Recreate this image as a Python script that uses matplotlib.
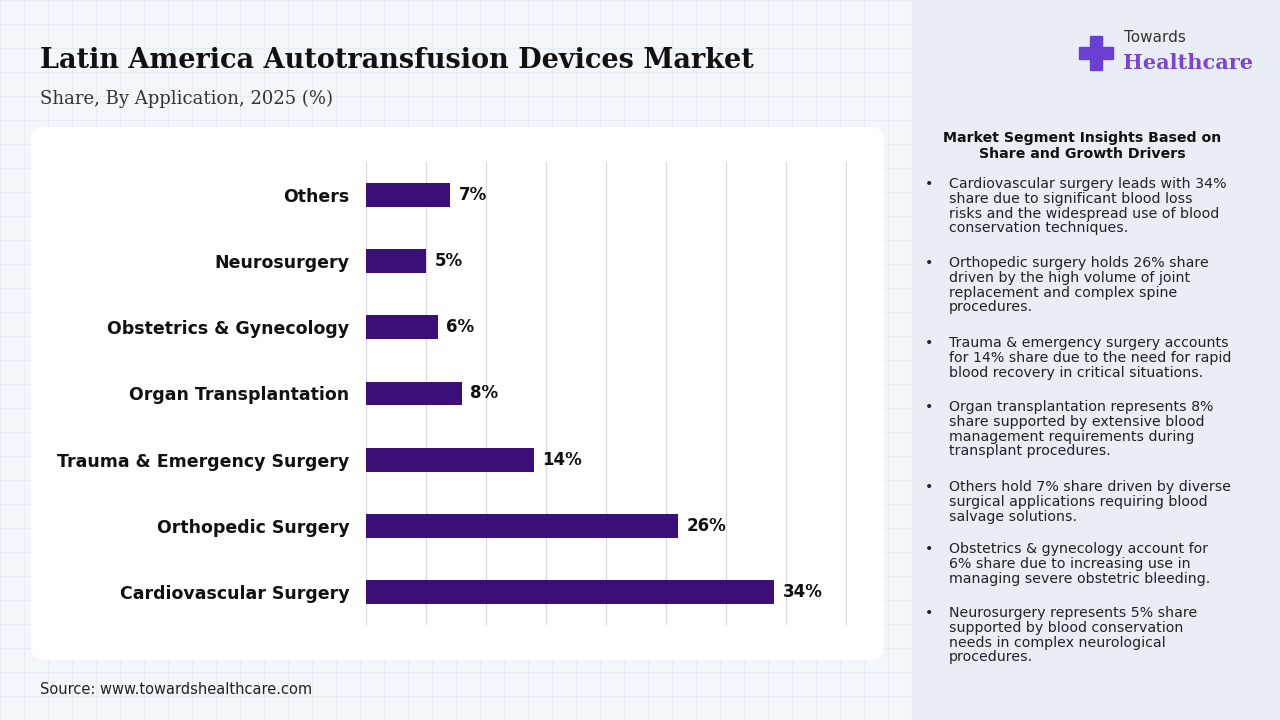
import matplotlib.pyplot as plt
from matplotlib.patches import FancyBboxPatch, Rectangle

categories = ["Cardiovascular Surgery", "Orthopedic Surgery", "Trauma & Emergency Surgery",
              "Organ Transplantation", "Obstetrics & Gynecology", "Neurosurgery", "Others"]
shares = [34, 26, 14, 8, 6, 5, 7]

insights = [
    "Cardiovascular surgery leads with 34%\nshare due to significant blood loss\nrisks and the widespread use of blood\nconservation techniques.",
    "Orthopedic surgery holds 26% share\ndriven by the high volume of joint\nreplacement and complex spine\nprocedures.",
    "Trauma & emergency surgery accounts\nfor 14% share due to the need for rapid\nblood recovery in critical situations.",
    "Organ transplantation represents 8%\nshare supported by extensive blood\nmanagement requirements during\ntransplant procedures.",
    "Others hold 7% share driven by diverse\nsurgical applications requiring blood\nsalvage solutions.",
    "Obstetrics & gynecology account for\n6% share due to increasing use in\nmanaging severe obstetric bleeding.",
    "Neurosurgery represents 5% share\nsupported by blood conservation\nneeds in complex neurological\nprocedures.",
]

W, H = 1280, 720
fig = plt.figure(figsize=(12.8, 7.2), dpi=100)
fig.patch.set_facecolor("#f3f6fa")

bg = fig.add_axes([0, 0, 1, 1])
bg.set_xlim(0, W)
bg.set_ylim(H, 0)
bg.axis("off")
# faint grid background on the left
for gx in range(0, 912, 24):
    bg.plot([gx, gx], [0, H], color="#e6ecf3", lw=0.8, zorder=0)
for gy in range(0, H, 24):
    bg.plot([0, 912], [gy, gy], color="#e6ecf3", lw=0.8, zorder=0)
bg.add_patch(Rectangle((912, 0), W - 912, H, color="#e9eef6", zorder=1))
bg.add_patch(FancyBboxPatch((31, 127), 853, 533, boxstyle="round,pad=0,rounding_size=14",
                            fc="white", ec="none", zorder=2))

bg.text(40, 60, "Latin America Autotransfusion Devices Market", fontsize=19.5, fontweight="bold",
        family="DejaVu Serif", va="center", color="#111111", zorder=3)
bg.text(40, 99, "Share, By Application, 2025 (%)", fontsize=13, family="DejaVu Serif",
        va="center", color="#333333", zorder=3)
bg.text(40, 690, "Source: www.towardshealthcare.com", fontsize=10.5, va="center",
        color="#222222", zorder=3)

# logo
bg.add_patch(Rectangle((1090, 36), 12, 34, color="#6b3fd4", zorder=3))
bg.add_patch(Rectangle((1079, 47), 34, 12, color="#6b3fd4", zorder=3))
bg.text(1124, 38, "Towards", fontsize=11, va="center", color="#333333", zorder=3)
bg.text(1123, 63, "Healthcare", fontsize=15, fontweight="bold", family="DejaVu Serif",
        va="center", color="#7a45d0", zorder=3)

# insights panel
bg.text(1082, 146, "Market Segment Insights Based on\nShare and Growth Drivers", fontsize=10.2,
        fontweight="bold", ha="center", va="center", color="#111111", linespacing=1.15, zorder=3)
starts = [185, 264, 344, 408, 488, 550, 614]
for y, t in zip(starts, insights):
    bg.text(925, y - 8, "•", fontsize=10.2, va="top", color="#222222", zorder=3)
    bg.text(949, y - 8, t, fontsize=10.2, va="top", color="#222222", linespacing=1.07, zorder=3)

ax = fig.add_axes([366 / W, 1 - 625 / H, (847 - 366) / W, (625 - 162) / H])
ax.set_facecolor("none")
ypos = list(range(len(categories)))
ax.barh(ypos, shares, height=0.36, color="#3a1078", zorder=3)
for y, v in zip(ypos, shares):
    ax.text(v + 0.7, y, f"{v}%", va="center", fontsize=12, fontweight="bold", color="#111111")
ax.set_xlim(0, 40.05)
ax.set_ylim(-0.5, len(categories) - 0.5)
ax.set_xticks(range(0, 41, 5))
ax.xaxis.grid(True, color="#d9d9d9", lw=0.9)
ax.tick_params(axis="x", length=0, labelbottom=False)
ax.tick_params(axis="y", length=0, pad=12)
ax.set_yticks(ypos)
ax.set_yticklabels(categories, fontsize=12.5, fontweight="bold", color="#111111")
for s in ax.spines.values():
    s.set_visible(False)

fig.savefig("out.png", dpi=100, facecolor=fig.get_facecolor())
